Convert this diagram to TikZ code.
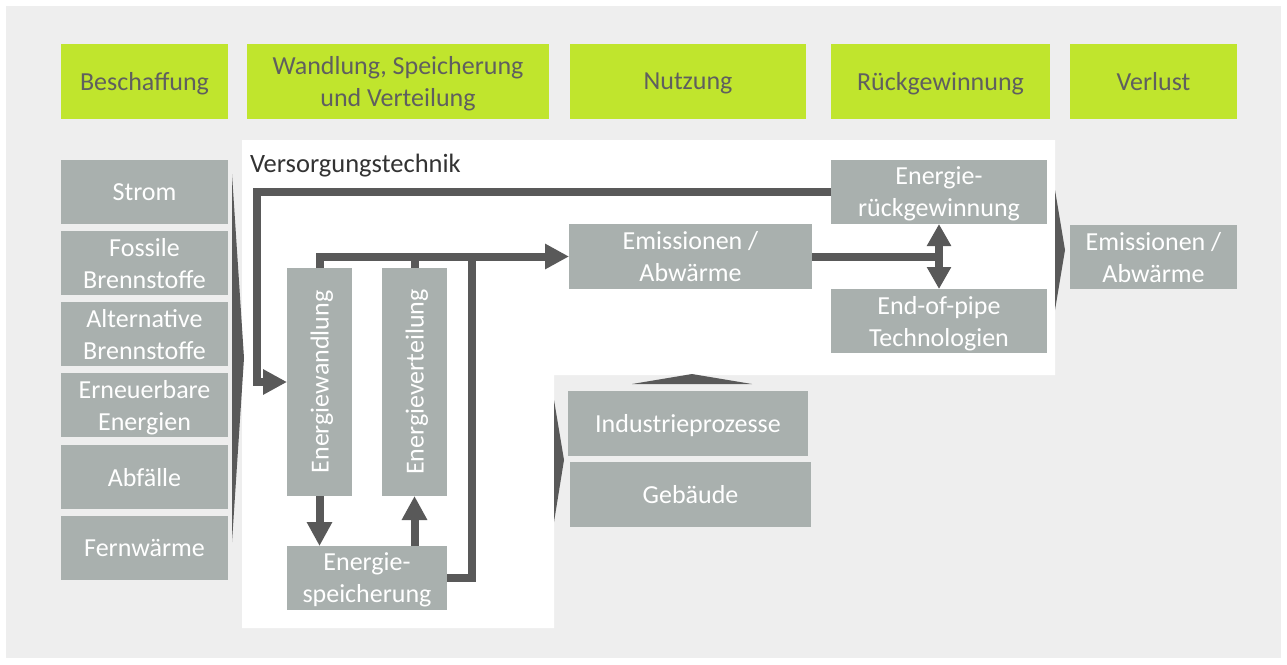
\documentclass[tikz,border=0pt]{standalone}
\usepackage{fontspec}
\setmainfont{Carlito}
\usetikzlibrary{arrows.meta}
\definecolor{bgc}{HTML}{EEEEEE}
\definecolor{leaf}{HTML}{C0E52D}
\definecolor{boxc}{HTML}{A9B0AE}
\definecolor{pipe}{HTML}{595959}
\definecolor{headtxt}{HTML}{5F5F5F}
\definecolor{labeltxt}{HTML}{333333}
\begin{document}
\begin{tikzpicture}[x=1pt,y=-1pt,
  every node/.style={inner sep=0pt, outer sep=0pt, align=center,
                     font=\fontsize{26}{32}\selectfont},
  % ignore descenders so all labels sit on the same line
  linebox/.style={text depth=0pt},
  head/.style={linebox, fill=leaf, text=headtxt, minimum height=75pt},
  gbox/.style={linebox, fill=boxc, text=white},
  pipeline/.style={draw=pipe, line width=8pt},
  flow/.style={pipeline, -{Triangle[length=24pt,width=24pt]}},
  twoway/.style={pipeline, {Triangle[length=22pt,width=23pt]}-{Triangle[length=22pt,width=23pt]}},
  chevron/.style={fill=pipe}
]
\useasboundingbox (0,0) rectangle (1287,664);
% backdrop and the white "Versorgungstechnik" area
\fill[bgc] (6,6) rectangle (1281,658);
\fill[white] (242,140) -- (1055,140) -- (1055,375) -- (554,375)
  -- (554,628) -- (242,628) -- cycle;

% column headers
\node[head, minimum width=167pt] (hBesch) at (144.5,81.5) {Beschaffung};
\node[head, minimum width=302pt] (hWandl) at (398,81.5) {Wandlung, Speicherung\\und Verteilung};
\node[head, minimum width=236pt] (hNutz) at (688,81.5) {Nutzung};
\node[head, minimum width=219pt] (hRueck) at (940.5,81.5) {Rückgewinnung};
\node[head, minimum width=167pt] (hVerl) at (1153.5,81.5) {Verlust};

% procurement column
\node[gbox, minimum width=167pt, minimum height=64pt] (s1) at (144.5,192) {Strom};
\node[gbox, minimum width=167pt, minimum height=64pt] (s2) at (144.5,263) {Fossile\\Brennstoffe};
\node[gbox, minimum width=167pt, minimum height=64pt] (s3) at (144.5,334) {Alternative\\Brennstoffe};
\node[gbox, minimum width=167pt, minimum height=64pt] (s4) at (144.5,405) {Erneuerbare\\Energien};
\node[gbox, minimum width=167pt, minimum height=64pt] (s5) at (144.5,477) {Abfälle};
\node[gbox, minimum width=167pt, minimum height=64pt] (s6) at (144.5,548) {Fernwärme};

% supply technology
\node[anchor=base west, text=labeltxt, font=\fontsize{26.5}{32}\selectfont] (vt) at (250,172) {Versorgungstechnik};
\node[gbox, rotate=90, minimum width=228pt, minimum height=65pt] (ew) at (319.5,382) {Energiewandlung};
\node[gbox, rotate=90, minimum width=228pt, minimum height=65pt] (ev) at (414.5,382) {Energieverteilung};
\node[gbox, minimum width=160pt, minimum height=64pt] (es) at (367,578) {Energie-\\speicherung};
\node[gbox, minimum width=243pt, minimum height=65pt] (emi) at (690.5,256.5) {Emissionen /\\Abwärme};
\node[gbox, minimum width=216pt, minimum height=64pt] (rg) at (939,192) {Energie-\\rückgewinnung};
\node[gbox, minimum width=216pt, minimum height=64pt] (eop) at (939,321) {End-of-pipe\\Technologien};

% use
\node[gbox, minimum width=240pt, minimum height=65pt] (ind) at (688,423.5) {Industrieprozesse};
\node[gbox, minimum width=241pt, minimum height=65pt] (geb) at (690.5,494.5) {Gebäude};

% loss
\node[gbox, minimum width=167pt, minimum height=64pt] (out) at (1153.5,257) {Emissionen /\\Abwärme};

% chevrons between the stages
\fill[chevron] (232,174) -- (244,358) -- (232,542) -- cycle;
\fill[chevron] (554,400) -- (564,460) -- (554,522) -- cycle;
\fill[chevron] (1055,190) -- (1065,250) -- (1055,310) -- cycle;
\fill[chevron] (632,384) -- (692,374) -- (752,384) -- cycle;

% energy flows
\coordinate (bus) at (472,256.5);
\coordinate (loopx) at (256.5,192);
\draw[flow] (ew.east) |- (emi.west);
\draw[pipeline] (ev.east) -- (ev.east |- emi.west);
\draw[pipeline] (es.east) -| (bus);
\draw[flow] (ew.west) -- (ew.west |- es.north);
\draw[flow] (ev.west |- es.north) -- (ev.west);
\draw[flow] (rg.west) -- (loopx) |- (ew.north);
\draw[pipeline] (emi.east) -- (emi.east -| rg.south);
\draw[twoway] (rg.south) -- (eop.north);
\end{tikzpicture}
\end{document}
